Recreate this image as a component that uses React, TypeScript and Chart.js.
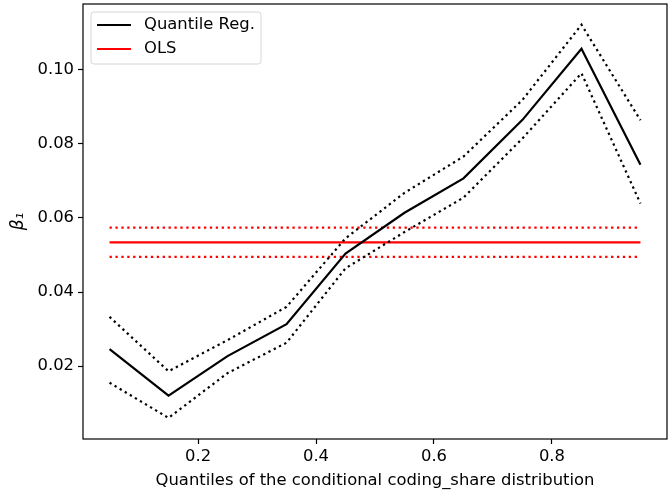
import React, { useEffect, useRef } from "react";
import { Chart, registerables } from "chart.js";

Chart.register(...registerables);

const quantiles = [0.05, 0.15, 0.25, 0.35, 0.45, 0.55, 0.65, 0.75, 0.85, 0.95];
const qrCoef = [0.0246, 0.012, 0.0227, 0.0313, 0.0504, 0.0614, 0.0707, 0.0865, 0.1057, 0.0744];
const qrUpper = [0.0333, 0.0186, 0.027, 0.036, 0.0545, 0.0668, 0.0766, 0.0919, 0.1122, 0.0864];
const qrLower = [0.0155, 0.006, 0.0181, 0.0263, 0.0464, 0.0562, 0.0655, 0.0815, 0.0991, 0.0639];
const olsCoef = 0.0534;
const olsUpper = 0.0574;
const olsLower = 0.0495;
const xTicks = [0.2, 0.4, 0.6, 0.8];
const yTicks = [0.02, 0.04, 0.06, 0.08, 0.1];
const legendLabels = ["Quantile Reg.", "OLS"];
const legendColors = ["#000000", "#ff0000"];

const FONT = "'DejaVu Sans', sans-serif";
const FS = 16.4;

export default function App() {
  const ref = useRef<HTMLCanvasElement | null>(null);

  useEffect(() => {
    document.body.style.margin = "0";
    const canvas = ref.current;
    if (!canvas) return;
    const pts = (ys: number[]) => quantiles.map((x, i) => ({ x, y: ys[i] }));
    const flat = (v: number) => [
      { x: quantiles[0], y: v },
      { x: quantiles[quantiles.length - 1], y: v },
    ];
    const dot = [2.3, 3.6];

    const framePlugin = {
      id: "frame",
      afterDatasetsDraw(chart: any) {
        const { ctx, chartArea: a } = chart;
        ctx.save();
        ctx.strokeStyle = "#000";
        ctx.lineWidth = 1.2;
        ctx.strokeRect(a.left, a.top, a.right - a.left, a.bottom - a.top);
        ctx.restore();
      },
    };

    const legendPlugin = {
      id: "mplLegend",
      afterDraw(chart: any) {
        const { ctx, chartArea: a } = chart;
        const x0 = a.left + 8;
        const y0 = a.top + 8;
        const w = 170;
        const h = 52;
        ctx.save();
        ctx.beginPath();
        const r = 3;
        ctx.moveTo(x0 + r, y0);
        ctx.arcTo(x0 + w, y0, x0 + w, y0 + h, r);
        ctx.arcTo(x0 + w, y0 + h, x0, y0 + h, r);
        ctx.arcTo(x0, y0 + h, x0, y0, r);
        ctx.arcTo(x0, y0, x0 + w, y0, r);
        ctx.closePath();
        ctx.fillStyle = "rgba(255,255,255,0.8)";
        ctx.fill();
        ctx.strokeStyle = "#d6d6d6";
        ctx.lineWidth = 1;
        ctx.stroke();
        ctx.font = `${FS}px ${FONT}`;
        ctx.textBaseline = "middle";
        legendLabels.forEach((lab, i) => {
          const yy = y0 + 13 + i * 24;
          ctx.beginPath();
          ctx.strokeStyle = legendColors[i];
          ctx.lineWidth = 2.2;
          ctx.moveTo(x0 + 6, yy);
          ctx.lineTo(x0 + 40, yy);
          ctx.stroke();
          ctx.fillStyle = "#000";
          ctx.fillText(lab, x0 + 53, yy);
        });
        ctx.restore();
      },
    };

    const chart = new Chart(canvas, {
      type: "line",
      data: {
        datasets: [
          { label: "Quantile Reg.", data: pts(qrCoef), borderColor: "#000", borderWidth: 2.2 },
          { label: "upper", data: pts(qrUpper), borderColor: "#000", borderWidth: 2.2, borderDash: dot },
          { label: "lower", data: pts(qrLower), borderColor: "#000", borderWidth: 2.2, borderDash: dot },
          { label: "OLS", data: flat(olsCoef), borderColor: "#ff0000", borderWidth: 2.2 },
          { label: "olsU", data: flat(olsUpper), borderColor: "#ff0000", borderWidth: 2.2, borderDash: dot },
          { label: "olsL", data: flat(olsLower), borderColor: "#ff0000", borderWidth: 2.2, borderDash: dot },
        ],
      },
      options: {
        animation: false,
        responsive: false,
        devicePixelRatio: 1,
        elements: { point: { radius: 0 }, line: { tension: 0, borderCapStyle: "butt" } },
        layout: { padding: { left: 0, right: 3, top: 4, bottom: 0 } },
        plugins: { legend: { display: false }, tooltip: { enabled: false } },
        scales: {
          x: {
            type: "linear",
            min: 0.005,
            max: 0.995,
            afterBuildTicks: (s: any) => {
              s.ticks = xTicks.map((v) => ({ value: v }));
            },
            afterFit: (s: any) => {
              s.height = 55;
              s.paddingLeft = 0;
              s.paddingRight = 0;
            },
            grid: { display: true, drawOnChartArea: false, tickLength: 5, color: "#000", tickWidth: 1.2 },
            border: { display: false },
            ticks: {
              color: "#000",
              font: { family: FONT, size: FS },
              padding: 3,
              maxRotation: 0,
              callback: (v: any) => Number(v).toFixed(1),
            },
            title: {
              display: true,
              text: "Quantiles of the conditional coding_share distribution",
              color: "#000",
              font: { family: FONT, size: FS },
              padding: { top: 2, bottom: 3 },
            },
          },
          y: {
            type: "linear",
            min: 0.0003,
            max: 0.1178,
            afterBuildTicks: (s: any) => {
              s.ticks = yTicks.map((v) => ({ value: v }));
            },
            afterFit: (s: any) => {
              s.width = 83;
              s.paddingTop = 0;
              s.paddingBottom = 0;
            },
            grid: { display: true, drawOnChartArea: false, tickLength: 5, color: "#000", tickWidth: 1.2 },
            border: { display: false },
            ticks: {
              color: "#000",
              font: { family: FONT, size: FS },
              padding: 4,
              callback: (v: any) => Number(v).toFixed(2),
            },
            title: {
              display: true,
              text: "β₁",
              color: "#000",
              font: { family: FONT, size: 17, style: "italic" },
              padding: { top: 8, bottom: 4 },
            },
          },
        },
      },
      plugins: [framePlugin, legendPlugin],
    });
    return () => chart.destroy();
  }, []);

  return (
    <div style={{ width: 670, height: 494 }}>
      <canvas ref={ref} width={670} height={494} />
    </div>
  );
}
